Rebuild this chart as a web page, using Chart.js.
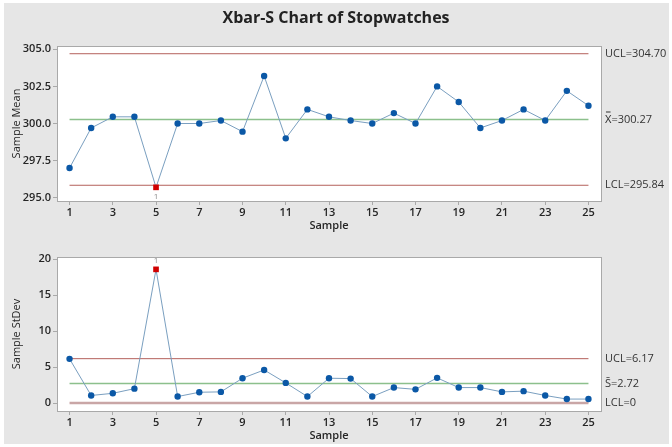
<!DOCTYPE html>
<html>
<head>
<meta charset="utf-8">
<script src="https://cdn.jsdelivr.net/npm/chart.js@4.4.0/dist/chart.umd.min.js"></script>
<style>
  html, body { margin:0; padding:0; background:#ffffff; }
  #wrap { position:relative; width:672px; height:447px; overflow:hidden; background:#ffffff; }
  #panel { position:absolute; left:4px; top:3px; width:665px; height:441px; background:#e6e6e6; }
  #c1 { position:absolute; left:0; top:0; }
  #c2 { position:absolute; left:0; top:235px; }
</style>
</head>
<body>
<div id="wrap">
  <div id="panel"></div>
  <canvas id="c1" width="672" height="235"></canvas>
  <canvas id="c2" width="672" height="212"></canvas>
</div>
<script>
// ---- data ----
const samples = [1,2,3,4,5,6,7,8,9,10,11,12,13,14,15,16,17,18,19,20,21,22,23,24,25];
const sampleMeans = [297.0, 299.7, 300.45, 300.45, 295.7, 300.0, 300.0, 300.2, 299.45, 303.2,
                     299.0, 300.95, 300.45, 300.2, 300.0, 300.7, 300.0, 302.5, 301.45, 299.7,
                     300.2, 300.95, 300.2, 302.2, 301.2];
const sampleStdevs = [6.15, 1.05, 1.35, 2.0, 18.6, 0.9, 1.5, 1.55, 3.45, 4.6,
                      2.8, 0.9, 3.45, 3.4, 0.9, 2.15, 1.9, 3.5, 2.15, 2.15,
                      1.55, 1.65, 1.05, 0.55, 0.55];
const meanLimits = [304.70, 300.27, 295.84];   // UCL, center, LCL
const sdLimits = [6.17, 2.72, 0];              // UCL, center, LCL
const meanLimitLabels = ['UCL=304.70', 'X\u033F=300.27', 'LCL=295.84'];
const sdLimitLabels = ['UCL=6.17', 'S\u0304=2.72', 'LCL=0'];
const meanFlagged = [5];
const sdFlagged = [5];
const xTickValues = [1,3,5,7,9,11,13,15,17,19,21,23,25];
const meanTickValues = [295.0, 297.5, 300.0, 302.5, 305.0];
const sdTickValues = [0, 5, 10, 15, 20];
const chartTitle = 'Xbar-S Chart of Stopwatches';

// ---- styling ----
const FONT = '"Open Sans", "Noto Sans", "DejaVu Sans", sans-serif';
const C_POINT = '#0b58a6';
const C_CONN = '#7a9fc0';
const C_UCL = '#b4605b';
const C_CL = '#8cc08c';
const C_FLAG = '#d00000';
const C_AXIS = '#a9a9a9';
const C_TEXT = '#262626';

function pts(ys) { return samples.map((s, i) => ({x: s, y: ys[i]})); }
function hline(v) { return [{x: samples[0], y: v}, {x: samples[samples.length-1], y: v}]; }

const areaPlugin = {
  id: 'area',
  beforeDraw(chart) {
    const a = chart.chartArea, ctx = chart.ctx;
    ctx.save(); ctx.fillStyle = '#ffffff';
    ctx.fillRect(a.left, a.top, a.right - a.left, a.bottom - a.top);
    ctx.restore();
  },
  afterDraw(chart) {
    const a = chart.chartArea, ctx = chart.ctx;
    ctx.save(); ctx.strokeStyle = C_AXIS; ctx.lineWidth = 1;
    ctx.strokeRect(Math.round(a.left) + 0.5, Math.round(a.top) + 0.5,
                   Math.round(a.right - a.left), Math.round(a.bottom - a.top));
    // limit labels on the right
    const o = chart.options.plugins.limitText;
    const ys = chart.scales.y;
    ctx.fillStyle = '#333333';
    ctx.font = '11px ' + FONT;
    ctx.textBaseline = 'middle';
    ctx.textAlign = 'left';
    o.values.forEach((v, i) => {
      ctx.fillText(o.labels[i], a.right + 4, ys.getPixelForValue(v));
    });
    // flag labels
    const xs = chart.scales.x;
    ctx.fillStyle = '#8a8a8a';
    ctx.font = '8px ' + FONT;
    ctx.textAlign = 'center';
    o.flags.forEach(s => {
      const v = o.data[s - 1];
      const px = xs.getPixelForValue(s), py = ys.getPixelForValue(v);
      if (o.flagBelow) ctx.fillText('1', px, py + 9);
      else ctx.fillText('1', px, py - 9);
    });
    if (o.title) {
      ctx.fillStyle = '#222222';
      ctx.font = 'bold 16px ' + FONT;
      ctx.textAlign = 'center';
      ctx.fillText(o.title, 336, 18);
    }
    ctx.restore();
  }
};

function makeChart(canvas, values, limits, limitLabels, flagged, yTicks, yMin, yMax, yTitle, fmt, padBottom, padTop, title, flagBelow, lclStyle) {
  const isFlag = ctx => flagged.includes(ctx.raw && ctx.raw.x);
  return new Chart(canvas, {
    type: 'line',
    data: {
      datasets: [
        {data: hline(limits[0]), borderColor: C_UCL, borderWidth: 1, pointRadius: 0, order: 3},
        {data: hline(limits[1]), borderColor: C_CL, borderWidth: 1.5, pointRadius: 0, order: 3},
        {data: hline(limits[2]), borderColor: lclStyle.color, borderWidth: lclStyle.width, pointRadius: 0, order: 3},
        {
          data: pts(values), borderColor: C_CONN, borderWidth: 1, order: 1,
          pointRadius: c => isFlag(c) ? 4 : 3.2,
          pointStyle: c => isFlag(c) ? 'rect' : 'circle',
          pointBackgroundColor: c => isFlag(c) ? C_FLAG : C_POINT,
          pointBorderColor: c => isFlag(c) ? C_FLAG : C_POINT,
          pointBorderWidth: 0
        }
      ]
    },
    options: {
      responsive: false, animation: false, events: [],
      layout: {padding: {left: 10, right: 71, top: padTop, bottom: padBottom}},
      plugins: {
        legend: {display: false}, tooltip: {enabled: false},
        limitText: {values: limits, labels: limitLabels, flags: flagged, data: values, title: title, flagBelow: flagBelow}
      },
      scales: {
        x: {
          type: 'linear', min: 0.42, max: 25.58,
          afterBuildTicks: s => { s.ticks = xTickValues.map(v => ({value: v})); },
          afterFit: s => { s.height = 31; },
          grid: {drawOnChartArea: false, drawTicks: true, tickLength: 4, color: C_AXIS},
          border: {display: false},
          ticks: {color: C_TEXT, font: {family: FONT, size: 11, weight: '600'}, padding: 1, maxRotation: 0, autoSkip: false},
          title: {display: true, text: 'Sample', color: C_TEXT, font: {family: FONT, size: 11, weight: '600'}, padding: {top: 0, bottom: 0}}
        },
        y: {
          min: yMin, max: yMax,
          afterBuildTicks: s => { s.ticks = yTicks.map(v => ({value: v})); },
          afterFit: s => { s.width = 47; },
          grid: {drawOnChartArea: false, drawTicks: true, tickLength: 4, color: C_AXIS},
          border: {display: false},
          ticks: {color: C_TEXT, font: {family: FONT, size: 11, weight: '600'}, padding: 2, callback: fmt},
          title: {display: true, text: yTitle, color: C_TEXT, font: {family: FONT, size: 11}, padding: {top: 0, bottom: 4}}
        }
      }
    },
    plugins: [areaPlugin]
  });
}

makeChart(document.getElementById('c1'), sampleMeans, meanLimits, meanLimitLabels, meanFlagged,
  meanTickValues, 294.78, 305.22, 'Sample Mean', v => Number(v).toFixed(1), 3, 46, chartTitle, true,
  {color: C_UCL, width: 1});
makeChart(document.getElementById('c2'), sampleStdevs, sdLimits, sdLimitLabels, sdFlagged,
  sdTickValues, -1.11, 20.32, 'Sample StDev', v => String(v), 5, 22, null, false,
  {color: '#c9a6a6', width: 2.5});
</script>
</body>
</html>
